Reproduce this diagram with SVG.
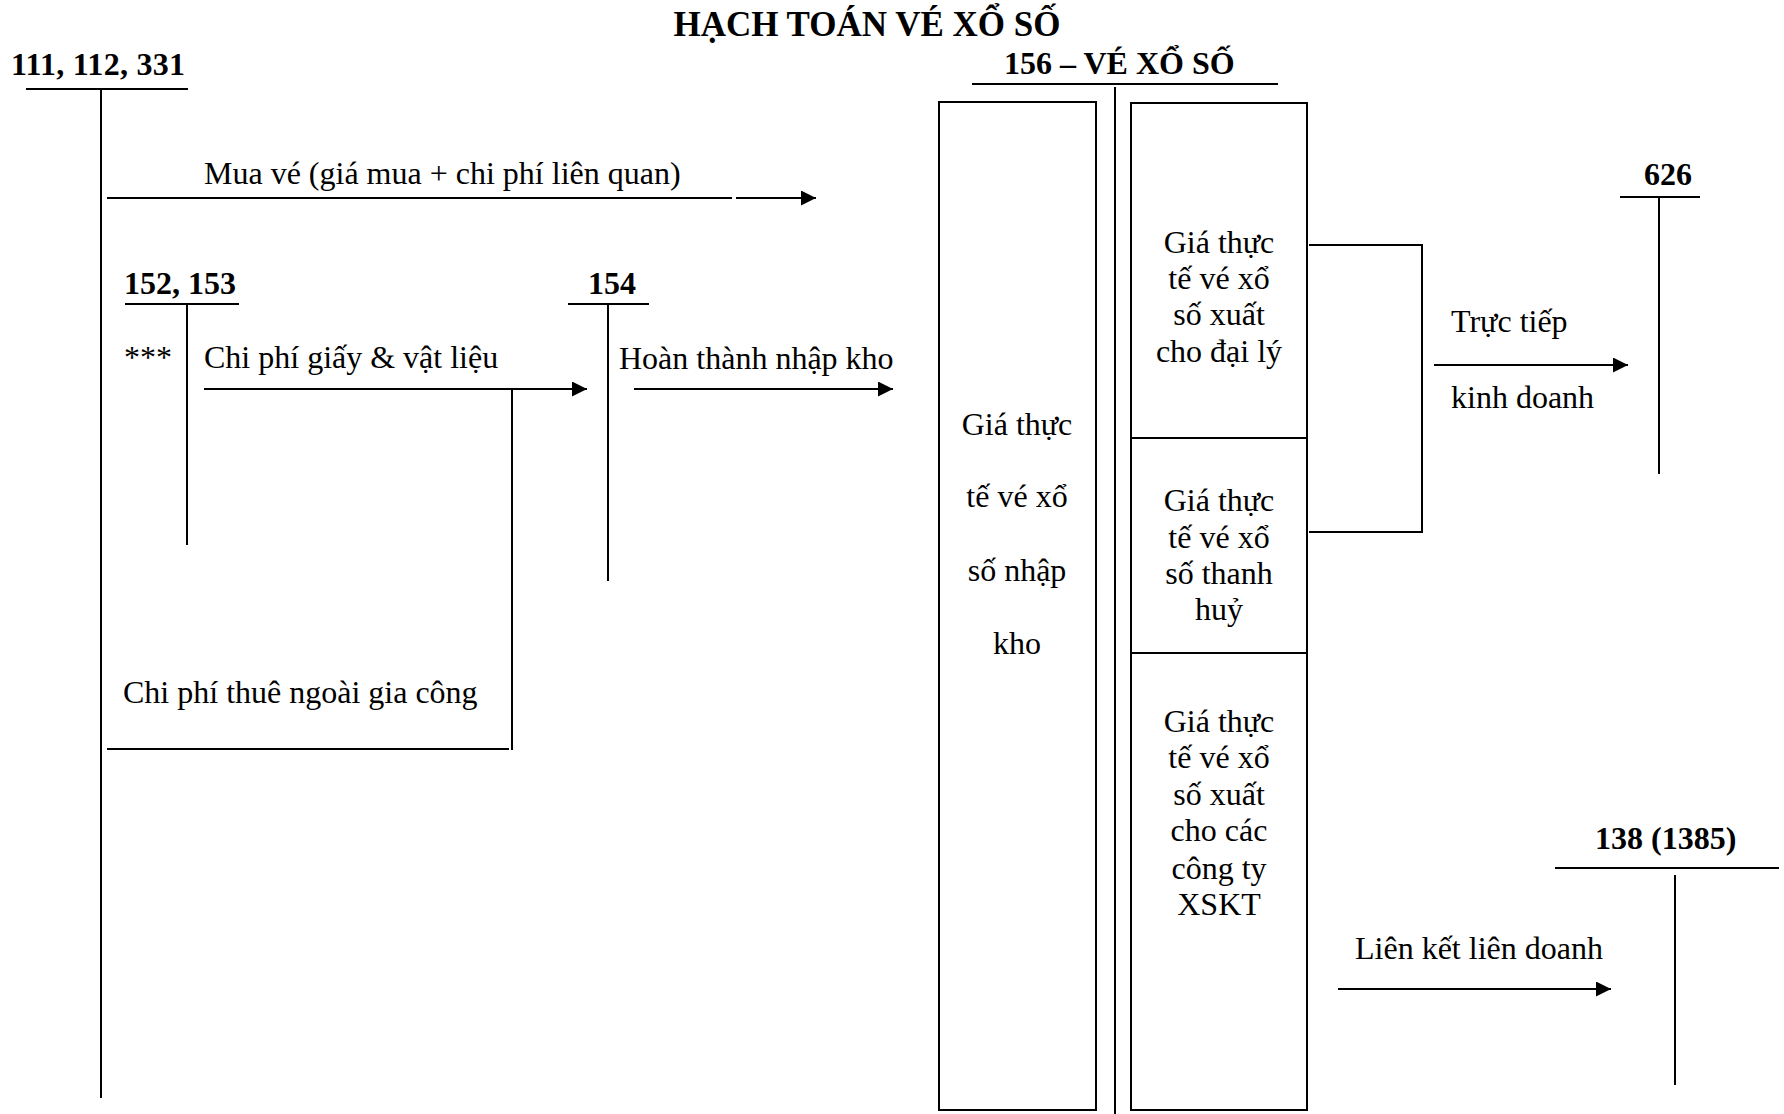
<svg xmlns="http://www.w3.org/2000/svg" width="1784" height="1114" viewBox="0 0 1784 1114">
<style>
text{font-family:"Liberation Serif","Times New Roman",serif;fill:#000}
.t{font-size:32px}
.b{font-size:32px;font-weight:bold}
.h{font-size:35px;font-weight:bold}
.m{text-anchor:middle}
.ln{stroke:#000;stroke-width:2;fill:none}
.bx{stroke:#000;stroke-width:2;fill:#fff}
</style>
<defs>
<marker id="ah" markerWidth="15" markerHeight="15" refX="15" refY="7.5" orient="auto" markerUnits="userSpaceOnUse"><path d="M0,0 L15,7.5 L0,15 z" fill="#000"/></marker>
</defs>
<rect width="1784" height="1114" fill="#fff"/>
<text class="h m" x="867" y="36">HẠCH TOÁN VÉ XỔ SỐ</text>

<g id="acc-111">
<text class="b" x="11" y="75" textLength="174" lengthAdjust="spacing">111, 112, 331</text>
<line class="ln" x1="26" y1="89" x2="188" y2="89"/>
<line class="ln" x1="101" y1="89" x2="101" y2="1098"/>
</g>

<g id="acc-152">
<text class="b" x="124" y="294">152, 153</text>
<line class="ln" x1="125" y1="304" x2="239" y2="304"/>
<line class="ln" x1="187" y1="304" x2="187" y2="545"/>
<text class="t" x="124" y="368">***</text>
</g>

<g id="acc-154">
<text class="b" x="588" y="294">154</text>
<line class="ln" x1="568" y1="304" x2="649" y2="304"/>
<line class="ln" x1="608" y1="304" x2="608" y2="581"/>
</g>

<g id="acc-156">
<text class="b" x="1004" y="74">156 – VÉ XỔ SỐ</text>
<line class="ln" x1="972" y1="84" x2="1278" y2="84"/>
<line class="ln" x1="1115" y1="87" x2="1115" y2="1114"/>
<rect class="bx" x="939" y="102" width="157" height="1008"/>
<text class="t m" x="1017" y="435">Giá thực</text>
<text class="t m" x="1017" y="507">tế vé xổ</text>
<text class="t m" x="1017" y="581">số nhập</text>
<text class="t m" x="1017" y="654">kho</text>
<rect class="bx" x="1131" y="103" width="176" height="1007"/>
<line class="ln" x1="1131" y1="438" x2="1307" y2="438"/>
<line class="ln" x1="1131" y1="653" x2="1307" y2="653"/>
<text class="t m" x="1219" y="253">Giá thực</text>
<text class="t m" x="1219" y="289">tế vé xổ</text>
<text class="t m" x="1219" y="325">số xuất</text>
<text class="t m" x="1219" y="362">cho đại lý</text>
<text class="t m" x="1219" y="511">Giá thực</text>
<text class="t m" x="1219" y="548">tế vé xổ</text>
<text class="t m" x="1219" y="584">số thanh</text>
<text class="t m" x="1219" y="620">huỷ</text>
<text class="t m" x="1219" y="732">Giá thực</text>
<text class="t m" x="1219" y="768">tế vé xổ</text>
<text class="t m" x="1219" y="805">số xuất</text>
<text class="t m" x="1219" y="841">cho các</text>
<text class="t m" x="1219" y="879">công ty</text>
<text class="t m" x="1219" y="915">XSKT</text>
</g>

<g id="acc-626">
<text class="b" x="1644" y="185">626</text>
<line class="ln" x1="1620" y1="197" x2="1700" y2="197"/>
<line class="ln" x1="1659" y1="197" x2="1659" y2="474"/>
</g>

<g id="acc-138">
<text class="b" x="1595" y="849">138 (1385)</text>
<line class="ln" x1="1555" y1="868" x2="1779" y2="868"/>
<line class="ln" x1="1675" y1="875" x2="1675" y2="1085"/>
</g>

<g id="connectors">
<text class="t" x="204" y="184">Mua vé (giá mua + chi phí liên quan)</text>
<line class="ln" x1="107" y1="198" x2="732" y2="198"/>
<line class="ln" x1="736" y1="198" x2="816" y2="198" marker-end="url(#ah)"/>
<text class="t" x="204" y="368">Chi phí giấy &amp; vật liệu</text>
<line class="ln" x1="204" y1="389" x2="587" y2="389" marker-end="url(#ah)"/>
<line class="ln" x1="512" y1="389" x2="512" y2="750"/>
<line class="ln" x1="107" y1="749" x2="509" y2="749"/>
<text class="t" x="123" y="703">Chi phí thuê ngoài gia công</text>
<text class="t" x="619" y="369">Hoàn thành nhập kho</text>
<line class="ln" x1="634" y1="389" x2="893" y2="389" marker-end="url(#ah)"/>
<polyline class="ln" points="1309,245 1422,245 1422,532 1309,532"/>
<text class="t" x="1451" y="332">Trực tiếp</text>
<line class="ln" x1="1434" y1="365" x2="1628" y2="365" marker-end="url(#ah)"/>
<text class="t" x="1451" y="408">kinh doanh</text>
<text class="t" x="1355" y="959">Liên kết liên doanh</text>
<line class="ln" x1="1338" y1="989" x2="1611" y2="989" marker-end="url(#ah)"/>
</g>
</svg>
